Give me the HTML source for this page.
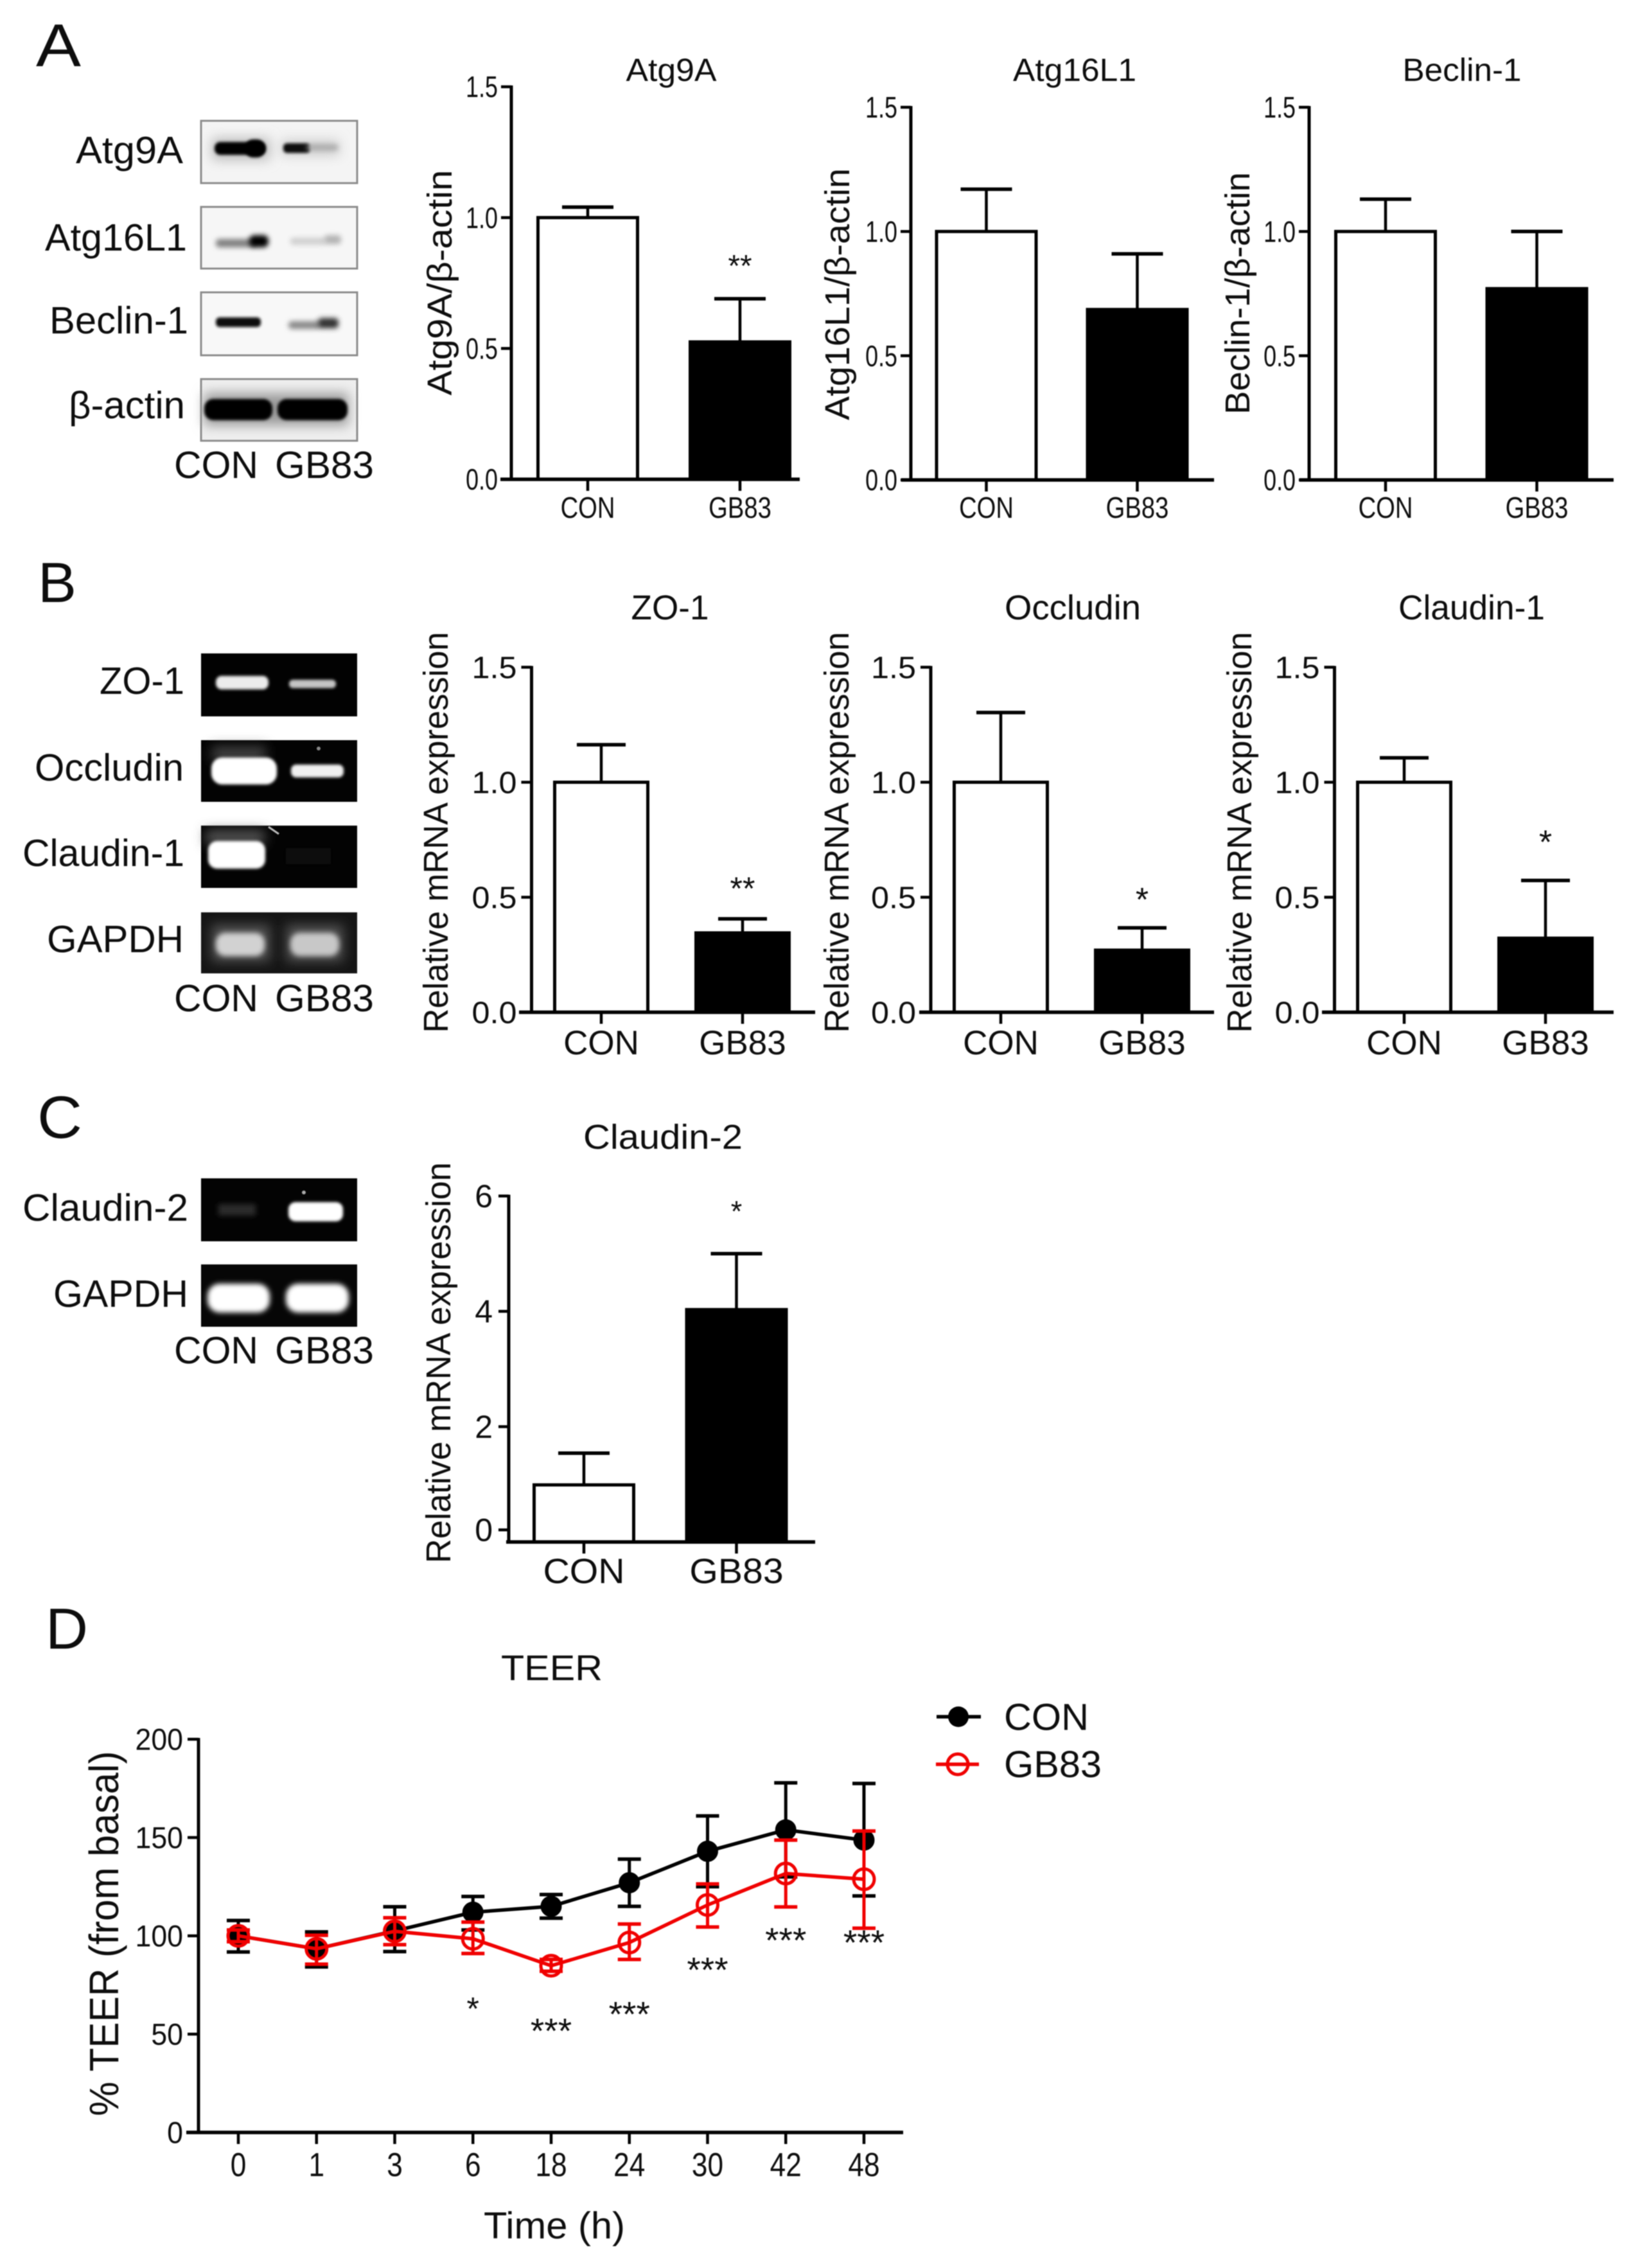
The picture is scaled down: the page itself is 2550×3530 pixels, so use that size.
<!DOCTYPE html>
<html lang="en">
<head>
<meta charset="utf-8">
<title>Autophagy, tight junction and TEER figure</title>
<style>
html,body{margin:0;padding:0;background:#fff;}
body{width:2550px;height:3530px;overflow:hidden;}
#figure{position:absolute;left:0;top:0;width:2550px;height:3530px;filter:blur(0.8px);}
text{font-family:"Liberation Sans",Arial,sans-serif;fill:#0d0d0d;}
</style>
</head>
<body>
<svg id="figure" xmlns="http://www.w3.org/2000/svg" width="2550" height="3530" viewBox="0 0 2550 3530">
<defs>
<filter id="b2" x="-30%" y="-60%" width="160%" height="220%"><feGaussianBlur stdDeviation="2"/></filter>
<filter id="b4" x="-30%" y="-80%" width="160%" height="260%"><feGaussianBlur stdDeviation="4"/></filter>
<filter id="b8" x="-40%" y="-100%" width="180%" height="300%"><feGaussianBlur stdDeviation="9"/></filter>
</defs>
<rect width="2550" height="3530" fill="#fff"/>

<text x="56" y="103" font-size="94" textLength="70" lengthAdjust="spacingAndGlyphs">A</text>
<text x="59" y="937" font-size="88" textLength="60" lengthAdjust="spacingAndGlyphs">B</text>
<text x="58" y="1771" font-size="93" textLength="70" lengthAdjust="spacingAndGlyphs">C</text>
<text x="71" y="2566" font-size="90" textLength="66" lengthAdjust="spacingAndGlyphs">D</text>

<g>
  <g>
    <rect x="313" y="188" width="243" height="97" fill="#f4f4f4" stroke="#8c8c8c" stroke-width="3"/>
    <rect x="330" y="215" width="90" height="34" fill="#bbb" filter="url(#b8)"/>
    <rect x="438" y="218" width="90" height="24" fill="#ccc" filter="url(#b8)"/>
    <rect x="334" y="221" width="80" height="20" rx="9" fill="#000" filter="url(#b2)"/>
    <rect x="382" y="217" width="30" height="28" rx="12" fill="#000" filter="url(#b2)"/>
    <rect x="441" y="223" width="42" height="15" rx="6" fill="#111" filter="url(#b2)"/>
    <rect x="478" y="225" width="48" height="9" rx="4" fill="#aaa" filter="url(#b4)"/>
  </g>
  <g>
    <rect x="313" y="322" width="243" height="96" fill="#f6f6f6" stroke="#8c8c8c" stroke-width="3"/>
    <rect x="336" y="372" width="62" height="13" rx="5" fill="#808080" filter="url(#b4)"/>
    <rect x="388" y="366" width="30" height="19" rx="8" fill="#000" filter="url(#b4)"/>
    <rect x="452" y="370" width="56" height="11" rx="4" fill="#cfcfcf" filter="url(#b4)"/>
    <rect x="505" y="366" width="26" height="14" rx="5" fill="#b4b4b4" filter="url(#b4)"/>
  </g>
  <g>
    <rect x="313" y="455" width="243" height="98" fill="#f8f8f8" stroke="#8c8c8c" stroke-width="3"/>
    <rect x="336" y="494" width="70" height="15" rx="6" fill="#111" filter="url(#b2)"/>
    <rect x="449" y="500" width="50" height="12" rx="5" fill="#888" filter="url(#b4)"/>
    <rect x="495" y="495" width="32" height="16" rx="6" fill="#333" filter="url(#b4)"/>
  </g>
  <g>
    <rect x="313" y="590" width="243" height="96" fill="#efefef" stroke="#8c8c8c" stroke-width="3"/>
    <rect x="318" y="612" width="224" height="50" fill="#999" filter="url(#b8)"/>
    <rect x="318" y="621" width="106" height="33" rx="14" fill="#000" filter="url(#b2)"/>
    <rect x="432" y="621" width="109" height="33" rx="14" fill="#000" filter="url(#b2)"/>
  </g>

  <g>
    <rect x="313" y="1017" width="243" height="98" fill="#020202"/>
    <rect x="336" y="1052" width="82" height="21" rx="9" fill="#ececec" filter="url(#b2)"/>
    <rect x="450" y="1058" width="73" height="13" rx="6" fill="#c4c4c4" filter="url(#b2)"/>
  </g>
  <g>
    <rect x="313" y="1152" width="243" height="96" fill="#030303"/>
    <rect x="330" y="1162" width="84" height="22" fill="#444" filter="url(#b8)"/>
    <rect x="329" y="1179" width="102" height="42" rx="17" fill="#fff" filter="url(#b2)"/>
    <rect x="453" y="1190" width="82" height="20" rx="8" fill="#f0f0f0" filter="url(#b2)"/>
    <circle cx="496" cy="1165" r="3" fill="#888"/>
  </g>
  <g>
    <rect x="313" y="1285" width="243" height="97" fill="#030303"/>
    <rect x="320" y="1292" width="92" height="22" fill="#555" filter="url(#b8)"/>
    <rect x="324" y="1309" width="89" height="43" rx="14" fill="#fff" filter="url(#b2)"/>
    <path d="M418 1287 L434 1298" stroke="#bbb" stroke-width="3" fill="none"/>
    <rect x="445" y="1320" width="70" height="25" fill="#0a0a0a" filter="url(#b4)"/>
  </g>
  <g>
    <rect x="313" y="1420" width="243" height="95" fill="#151515"/>
    <rect x="330" y="1440" width="90" height="56" fill="#555" filter="url(#b8)"/>
    <rect x="446" y="1440" width="88" height="56" fill="#555" filter="url(#b8)"/>
    <rect x="336" y="1452" width="76" height="36" rx="15" fill="#d2d2d2" filter="url(#b4)"/>
    <rect x="452" y="1452" width="76" height="36" rx="15" fill="#c8c8c8" filter="url(#b4)"/>
  </g>

  <g>
    <rect x="313" y="1834" width="243" height="98" fill="#030303"/>
    <rect x="340" y="1874" width="58" height="18" fill="#2c2c2c" filter="url(#b4)"/>
    <rect x="449" y="1871" width="85" height="30" rx="11" fill="#fff" filter="url(#b2)"/>
    <circle cx="473" cy="1856" r="3" fill="#aaa"/>
  </g>
  <g>
    <rect x="313" y="1968" width="243" height="97" fill="#060606"/>
    <rect x="323" y="1998" width="97" height="45" rx="19" fill="#fff" filter="url(#b4)"/>
    <rect x="445" y="1998" width="98" height="45" rx="19" fill="#fff" filter="url(#b4)"/>
  </g>
</g>

<g font-size="59">
  <text x="118" y="254" textLength="167" lengthAdjust="spacingAndGlyphs">Atg9A</text>
  <text x="70" y="390" textLength="221" lengthAdjust="spacingAndGlyphs">Atg16L1</text>
  <text x="77" y="519" textLength="216" lengthAdjust="spacingAndGlyphs">Beclin-1</text>
  <text x="107" y="651" textLength="181" lengthAdjust="spacingAndGlyphs">β-actin</text>
  <text x="271" y="744" textLength="131" lengthAdjust="spacingAndGlyphs">CON</text>
  <text x="428" y="744" textLength="154" lengthAdjust="spacingAndGlyphs">GB83</text>

  <text x="155" y="1080" textLength="132" lengthAdjust="spacingAndGlyphs">ZO-1</text>
  <text x="54" y="1215" textLength="232" lengthAdjust="spacingAndGlyphs">Occludin</text>
  <text x="35" y="1348" textLength="252" lengthAdjust="spacingAndGlyphs">Claudin-1</text>
  <text x="73" y="1482" textLength="213" lengthAdjust="spacingAndGlyphs">GAPDH</text>
  <text x="271" y="1574" textLength="131" lengthAdjust="spacingAndGlyphs">CON</text>
  <text x="428" y="1574" textLength="154" lengthAdjust="spacingAndGlyphs">GB83</text>

  <text x="35" y="1900" textLength="258" lengthAdjust="spacingAndGlyphs">Claudin-2</text>
  <text x="83" y="2034" textLength="210" lengthAdjust="spacingAndGlyphs">GAPDH</text>
  <text x="271" y="2122" textLength="131" lengthAdjust="spacingAndGlyphs">CON</text>
  <text x="428" y="2122" textLength="154" lengthAdjust="spacingAndGlyphs">GB83</text>
</g>

<g id="charts"></g>
</svg>

<script>
// ---- Bar chart data ----
const barCategories = ['CON', 'GB83'];

const ratioTicks = [0, 0.5, 1.0, 1.5];
const ratioTickLabels = ['0.0', '0.5', '1.0', '1.5'];

const atg9aMeans = [1.0, 0.525];
const atg9aErrors = [0.04, 0.165];
const atg16l1Means = [1.0, 0.686];
const atg16l1Errors = [0.17, 0.224];
const beclinMeans = [1.0, 0.77];
const beclinErrors = [0.13, 0.23];

const zo1Means = [1.0, 0.345];
const zo1Errors = [0.163, 0.061];
const occludinMeans = [1.0, 0.27];
const occludinErrors = [0.303, 0.097];
const claudin1Means = [1.0, 0.322];
const claudin1Errors = [0.106, 0.251];

const claudin2Means = [0.99, 4.03];
const claudin2Errors = [0.55, 0.97];
const claudin2Ticks = [0.21, 2, 4, 6];
const claudin2TickLabels = ['0', '2', '4', '6'];

// ---- TEER data ----
const timeLabels = ['0', '1', '3', '6', '18', '24', '30', '42', '48'];
const teerTicks = [0, 50, 100, 150, 200];
const teerTickLabels = ['0', '50', '100', '150', '200'];

const conMeans = [100, 93.4, 102.5, 112, 115, 127, 143, 153.9, 148.7];
const conUpper = [107.8, 102, 114.8, 120, 121, 139, 161, 177.8, 177.5];
const conLower = [91.8, 84.2, 92, 103, 109, 115, 125, 130, 120.3];

const gbMeans = [100, 93.4, 102.3, 98.5, 84.8, 96.6, 115.7, 131.7, 128.8];
const gbUpper = [103, 100.3, 109.2, 107, 88, 106, 126.4, 148.7, 153.3];
const gbLower = [97, 85.6, 95.5, 91, 82, 88, 104.5, 114.7, 103.9];

const teerStars = ['', '', '', '*', '***', '***', '***', '***', '***'];
const teerStarHeights = [0, 0, 0, 64.5, 53.5, 62, 84.5, 99.5, 98.5];

// ---- Helpers ----
const SVGNS = 'http://www.w3.org/2000/svg';
const root = document.getElementById('charts');

function node(tag, attrs, parent) {
  const e = document.createElementNS(SVGNS, tag);
  for (const k in attrs) e.setAttribute(k, attrs[k]);
  parent.appendChild(e);
  return e;
}
function line(parent, x1, y1, x2, y2, color, width) {
  return node('line', {x1: x1, y1: y1, x2: x2, y2: y2, stroke: color, 'stroke-width': width, 'stroke-linecap': 'butt'}, parent);
}
function scaledText(parent, str, x, y, size, sx, anchor) {
  const t = node('text', {transform: 'translate(' + x + ' ' + y + ') scale(' + sx + ' 1)', 'font-size': size, 'text-anchor': anchor}, parent);
  t.textContent = str;
  return t;
}
function fittedText(parent, str, x, y, size, length) {
  const t = node('text', {x: x, y: y, 'font-size': size, 'text-anchor': 'middle', textLength: length, lengthAdjust: 'spacingAndGlyphs'}, parent);
  t.textContent = str;
  return t;
}
function verticalText(parent, str, x, y, size, length) {
  const t = node('text', {transform: 'translate(' + x + ' ' + y + ') rotate(-90)', 'font-size': size, 'text-anchor': 'middle', textLength: length, lengthAdjust: 'spacingAndGlyphs'}, parent);
  t.textContent = str;
  return t;
}

// ---- Bar chart ----
function drawBarChart(c) {
  const g = node('g', {}, root);
  
  

  const yOf = v => c.y0 - v * c.pxPerUnit;
  const xOf = i => c.cx0 + i * c.step;

  const title = fittedText(g, c.title, c.titleX, c.titleY, c.titleSize, c.titleLen);
  
  

  const yTitle = verticalText(g, c.yLabel, c.yLabelX, c.yLabelY, 54, c.yLabelLen);
  
  

  c.means.forEach(function (m, i) {
    const cx = xOf(i);
    const top = yOf(m + c.errors[i]);
    const err = node('g', {}, g);
    
    
    line(err, cx, yOf(m), cx, top, '#000', 4.5);
    line(err, cx - c.capHalf, top, cx + c.capHalf, top, '#000', 5.5);

    const bar = node('rect', {
      x: cx - c.barW / 2, y: yOf(m), width: c.barW, height: c.y0 - yOf(m),
      fill: i === 0 ? '#fff' : '#000', stroke: '#000', 'stroke-width': 5
    }, g);
    
    
  });

  const yAxis = line(g, c.axisX, yOf(c.ticks[c.ticks.length - 1]) - 2, c.axisX, c.y0 + 2, '#000', 5);
  
  
  const xAxis = line(g, c.xStart, c.y0, c.xEnd, c.y0, '#000', 5.5);
  
  

  c.ticks.forEach(function (v, i) {
    const tick = line(g, c.axisX - 16, yOf(v), c.axisX, yOf(v), '#000', 4.5);
    
    
    const lab = scaledText(g, c.tickLabels[i], c.axisX - c.labelGap, yOf(v) + c.tickSize * 0.35, c.tickSize, c.tickSx, 'end');
    
    
  });

  barCategories.forEach(function (cat, i) {
    const tick = line(g, xOf(i), c.y0, xOf(i), c.y0 + 18, '#000', 4.5);
    
    
    const lab = scaledText(g, cat, xOf(i), c.catY, c.catSize, c.catSx, 'middle');
    
    
  });

  if (c.star) {
    const s = node('text', {x: xOf(1), y: c.starCenter + c.starSize * 0.44, 'font-size': c.starSize, 'text-anchor': 'middle'}, g);
    s.textContent = c.star;
    
    
  }
}

const rowA = {ticks: ratioTicks, tickLabels: ratioTickLabels, tickSize: 46, tickSx: 0.78, labelGap: 21,
  catSize: 46, catSx: 0.83, catY: 806, titleSize: 50, titleY: 126, barW: 155, capHalf: 40, yLabelLen: 351};
const rowB = {ticks: ratioTicks, tickLabels: ratioTickLabels, tickSize: 48, tickSx: 1.05, labelGap: 23,
  catSize: 53, catSx: 1.0, catY: 1641, titleSize: 54, titleY: 964, barW: 145, capHalf: 38,
  y0: 1575.5, pxPerUnit: 358, yLabel: 'Relative mRNA expression', yLabelY: 1295.5, yLabelLen: 624};

drawBarChart(Object.assign({}, rowA, {id: 'atg9a', title: 'Atg9A', titleX: 1045, titleLen: 141,
  axisX: 796, xStart: 779, xEnd: 1245, y0: 746, pxPerUnit: 407.3, cx0: 915, step: 237,
  means: atg9aMeans, errors: atg9aErrors, yLabel: 'Atg9A/β-actin', yLabelX: 703, yLabelY: 440,
  star: '**', starCenter: 409, starSize: 48}));
drawBarChart(Object.assign({}, rowA, {id: 'atg16l1', title: 'Atg16L1', titleX: 1673, titleLen: 192,
  axisX: 1418, xStart: 1403, xEnd: 1890, y0: 747, pxPerUnit: 386.7, cx0: 1535.5, step: 235,
  means: atg16l1Means, errors: atg16l1Errors, yLabel: 'Atg16L1/β-actin', yLabelX: 1322, yLabelY: 458, yLabelLen: 392}));
drawBarChart(Object.assign({}, rowA, {id: 'beclin-1', title: 'Beclin-1', titleX: 2276, titleLen: 185,
  axisX: 2038, xStart: 2023, xEnd: 2512, y0: 747, pxPerUnit: 386.7, cx0: 2157, step: 235.5,
  means: beclinMeans, errors: beclinErrors, yLabel: 'Beclin-1/β-actin', yLabelX: 1945, yLabelY: 456.5, yLabelLen: 377}));

drawBarChart(Object.assign({}, rowB, {id: 'zo-1', title: 'ZO-1', titleX: 1043, titleLen: 121,
  axisX: 827.5, xStart: 808, xEnd: 1269, cx0: 936, step: 220, means: zo1Means, errors: zo1Errors,
  yLabelX: 697, star: '**', starCenter: 1378, starSize: 50}));
drawBarChart(Object.assign({}, rowB, {id: 'occludin', title: 'Occludin', titleX: 1670, titleLen: 212,
  axisX: 1449, xStart: 1431, xEnd: 1890, cx0: 1558, step: 220, means: occludinMeans, errors: occludinErrors,
  yLabelX: 1321, star: '*', starCenter: 1395, starSize: 52}));
drawBarChart(Object.assign({}, rowB, {id: 'claudin-1', title: 'Claudin-1', titleX: 2291, titleLen: 228,
  axisX: 2077.5, xStart: 2058, xEnd: 2512, cx0: 2186, step: 220, means: claudin1Means, errors: claudin1Errors,
  yLabelX: 1948, star: '*', starCenter: 1305.6, starSize: 52}));

drawBarChart({id: 'claudin-2', title: 'Claudin-2', titleX: 1032, titleY: 1788, titleSize: 54, titleLen: 248,
  axisX: 792, xStart: 788, xEnd: 1269, y0: 2400, pxPerUnit: 89.75, cx0: 909, step: 237.5, barW: 155, capHalf: 40,
  ticks: claudin2Ticks, tickLabels: claudin2TickLabels, tickSize: 50, tickSx: 1.0, labelGap: 25,
  catSize: 55, catSx: 1.04, catY: 2464, means: claudin2Means, errors: claudin2Errors,
  yLabel: 'Relative mRNA expression', yLabelX: 701, yLabelY: 2121, yLabelLen: 624,
  star: '*', starCenter: 1881, starSize: 45});

// ---- TEER line chart ----
(function () {
  const g = node('g', {}, root);
  
  

  const xOf = i => 371 + i * 121.75;
  const yOf = v => 3319 - v * 3.06;

  const title = fittedText(g, 'TEER', 859, 2615, 56, 158);
  
  

  const yTitle = verticalText(g, '% TEER (from basal)', 184, 3009.5, 64, 568);
  
  

  const xTitle = fittedText(g, 'Time (h)', 863, 3484, 58, 220);
  
  

  const yAxis = line(g, 309, yOf(200) - 2, 309, 3321, '#000', 5);
  
  
  const xAxis = line(g, 290, 3319, 1406, 3319, '#000', 5.5);
  
  

  teerTicks.forEach(function (v, i) {
    const tick = line(g, 292, yOf(v), 309, yOf(v), '#000', 4.5);
    
    
    const lab = scaledText(g, teerTickLabels[i], 285, yOf(v) + 16.5, 47, 0.95, 'end');
    
    
  });

  timeLabels.forEach(function (t, i) {
    const tick = line(g, xOf(i), 3319, xOf(i), 3337, '#000', 4.5);
    
    
    const lab = scaledText(g, t, xOf(i), 3387, 52, 0.85, 'middle');
    
    
  });

  function drawSeries(key, color, means, upper, lower, open) {
    const s = node('g', {}, g);
    
    

    means.forEach(function (m, i) {
      const cx = xOf(i);
      const err = node('g', {}, s);
      
      
      line(err, cx, yOf(upper[i]), cx, yOf(lower[i]), color, 5);
      line(err, cx - 18, yOf(upper[i]), cx + 18, yOf(upper[i]), color, 5.5);
      line(err, cx - 18, yOf(lower[i]), cx + 18, yOf(lower[i]), color, 5.5);
    });

    const pts = means.map((m, i) => xOf(i) + ',' + yOf(m)).join(' ');
    const path = node('polyline', {points: pts, fill: 'none', stroke: color, 'stroke-width': 5.5}, s);
    
    

    means.forEach(function (m, i) {
      const dot = node('circle', {
        cx: xOf(i), cy: yOf(m), r: open ? 16 : 16,
        fill: open ? 'none' : color, stroke: color, 'stroke-width': open ? 5 : 1
      }, s);
      
      
    });
  }
  drawSeries('con', '#000', conMeans, conUpper, conLower, false);
  drawSeries('gb83', '#f00000', gbMeans, gbUpper, gbLower, true);

  teerStars.forEach(function (s, i) {
    if (!s) return;
    const fs = s.length === 1 ? 50 : 55;
    const st = node('text', {x: xOf(i), y: yOf(teerStarHeights[i]) + fs * 0.44, 'font-size': fs, 'text-anchor': 'middle'}, g);
    st.textContent = s;
    
    
  });

  const legCon = node('g', {}, g);
  
  
  line(legCon, 1458, 2672, 1527, 2672, '#000', 5.5);
  node('circle', {cx: 1492, cy: 2672, r: 16, fill: '#000'}, legCon);
  fittedText(legCon, 'CON', 1629, 2692.5, 58, 132);

  const legGb = node('g', {}, g);
  
  
  line(legGb, 1457, 2746, 1524, 2746, '#f00000', 5.5);
  node('circle', {cx: 1491, cy: 2746, r: 16, fill: 'none', stroke: '#f00000', 'stroke-width': 5}, legGb);
  fittedText(legGb, 'GB83', 1639, 2766, 58, 152);
})();
</script>
</body>
</html>
